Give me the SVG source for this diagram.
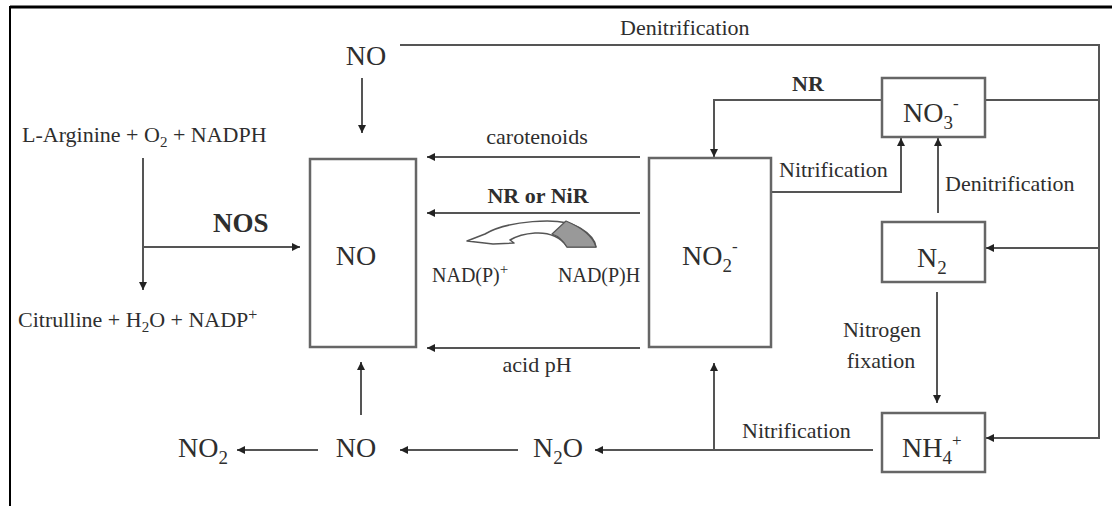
<svg xmlns="http://www.w3.org/2000/svg" width="1112" height="506" viewBox="0 0 1112 506">
<style>
.t{font-family:"Liberation Serif","Times New Roman",serif;fill:#2e2e2e}
.s22{font-size:22px}
.s20{font-size:20px}
.big{font-size:28px}
.b{font-weight:bold}
.box{fill:#fff;stroke:#666;stroke-width:2.5}
.ln{fill:none;stroke:#555;stroke-width:2}
</style>
<defs>
<marker id="ah" viewBox="0 0 10 10" refX="10" refY="5" markerUnits="userSpaceOnUse" markerWidth="9" markerHeight="8" orient="auto">
<path d="M0,0 L10,5 L0,10 z" fill="#222"/>
</marker>
</defs>
<rect width="1112" height="506" fill="#fff"/>
<g id="frame">
<line x1="10" y1="7" x2="1112" y2="7" stroke="#000" stroke-width="3"/>
<line x1="10" y1="6" x2="10" y2="506" stroke="#000" stroke-width="2"/>
</g>
<g id="connectors">
<path class="ln" d="M362,78 V133" marker-end="url(#ah)"/>
<path class="ln" d="M400,45 H1099 V438 H986" marker-end="url(#ah)"/>
<path class="ln" d="M1099,248 H986" marker-end="url(#ah)"/>
<path class="ln" d="M985,100 H1099"/>
<path class="ln" d="M143,158 V290" marker-end="url(#ah)"/>
<path class="ln" d="M143,247 H300" marker-end="url(#ah)"/>
<path class="ln" d="M640,157 H427" marker-end="url(#ah)"/>
<path class="ln" d="M640,213 H427" marker-end="url(#ah)"/>
<path class="ln" d="M640,348 H427" marker-end="url(#ah)"/>
<path class="ln" d="M882,100 H714 V157" marker-end="url(#ah)"/>
<path class="ln" d="M771,192 H901 V138" marker-end="url(#ah)"/>
<path class="ln" d="M938,213 V138" marker-end="url(#ah)"/>
<path class="ln" d="M937,292 V403" marker-end="url(#ah)"/>
<path class="ln" d="M873,450 H595" marker-end="url(#ah)"/>
<path class="ln" d="M714,450 V363" marker-end="url(#ah)"/>
<path class="ln" d="M518,450 H400" marker-end="url(#ah)"/>
<path class="ln" d="M318,450 H237" marker-end="url(#ah)"/>
<path class="ln" d="M361,415 V362" marker-end="url(#ah)"/>
</g>
<g id="labels">
<text class="t s22" x="620" y="35">Denitrification</text>
<text class="t s22" x="537" y="144" text-anchor="middle">carotenoids</text>
<text class="t s22 b" x="538" y="203" text-anchor="middle">NR or NiR</text>
<text class="t s22" x="537" y="372" text-anchor="middle">acid pH</text>
<text class="t s22 b" x="792" y="91">NR</text>
<text class="t s22" x="779" y="177">Nitrification</text>
<text class="t s22" x="945" y="191">Denitrification</text>
<text class="t s22" x="882" y="337" text-anchor="middle">Nitrogen</text>
<text class="t s22" x="881" y="368" text-anchor="middle">fixation</text>
<text class="t s22" x="742" y="438">Nitrification</text>
<text class="t b" style="font-size:27px" x="213" y="232">NOS</text>
</g>
<g id="cofactor">
<path d="M467,241 L485,234 C505,222 560,215 580,228 C590,234 595,240 596,247 L567,247 C562,238 550,232 535,233 C522,234 515,237 510,240 L514,243 L493,244 Z" fill="#fff" stroke="#555" stroke-width="1.5" stroke-linejoin="round"/>
<path d="M566,221 C578,226 592,234 596,247 L567,247 C563,240 558,236 552,234 Z" fill="#999" stroke="#555" stroke-width="1.2" stroke-linejoin="round"/>
<text class="t s20" x="432" y="282">NAD(P)<tspan font-size="15" dy="-8">+</tspan></text>
<text class="t s20" x="558" y="282">NAD(P)H</text>
</g>
<g id="node-no-top"><text class="t big" x="366" y="65" text-anchor="middle">NO</text></g>
<g id="node-arginine"><text class="t s22" x="22" y="142">L-Arginine + O<tspan font-size="15" dy="5">2</tspan><tspan dy="-5"> + NADPH</tspan></text></g>
<g id="node-citrulline"><text class="t s22" x="18" y="327">Citrulline + H<tspan font-size="15" dy="5">2</tspan><tspan dy="-5">O + NADP</tspan><tspan font-size="16" dy="-7">+</tspan></text></g>
<g id="node-no"><rect class="box" x="310" y="159" width="106" height="188"/><text class="t big" x="356" y="265" text-anchor="middle">NO</text></g>
<g id="node-no2minus"><rect class="box" x="649" y="158" width="122" height="189"/><text class="t big" x="682" y="265">NO<tspan font-size="19" dy="7">2</tspan><tspan font-size="17" dy="-20">-</tspan></text></g>
<g id="node-no3"><rect class="box" x="882" y="78" width="103" height="59"/><text class="t big" x="903" y="122">NO<tspan font-size="19" dy="7">3</tspan><tspan font-size="17" dy="-20">-</tspan></text></g>
<g id="node-n2"><rect class="box" x="882" y="222" width="103" height="60"/><text class="t big" x="917" y="267">N<tspan font-size="19" dy="7">2</tspan></text></g>
<g id="node-nh4"><rect class="box" x="882" y="413" width="103" height="59"/><text class="t big" x="902" y="457">NH<tspan font-size="19" dy="7">4</tspan><tspan font-size="17" dy="-18">+</tspan></text></g>
<g id="node-n2o"><text class="t big" x="533" y="457">N<tspan font-size="19" dy="7">2</tspan><tspan dy="-7">O</tspan></text></g>
<g id="node-no-bottom"><text class="t big" x="356" y="457" text-anchor="middle">NO</text></g>
<g id="node-no2"><text class="t big" x="178" y="457">NO<tspan font-size="19" dy="7">2</tspan></text></g>
</svg>
